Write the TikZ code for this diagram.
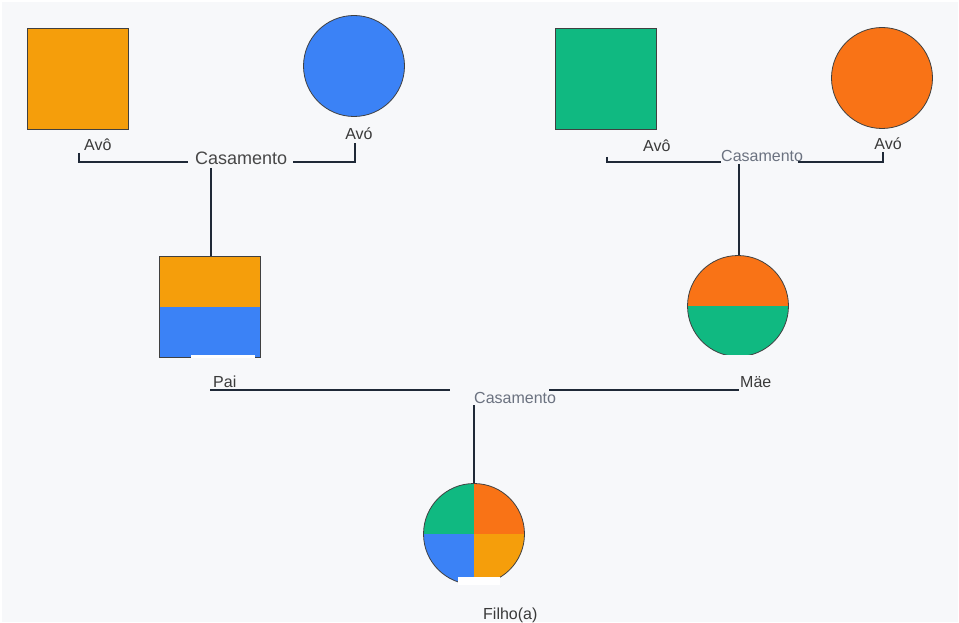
\documentclass[tikz,border=0pt]{standalone}
\usepackage{fontspec}
\setmainfont{Liberation Sans}
\usepackage{xcolor}
\usepackage{tikz}
\usetikzlibrary{positioning}
\definecolor{bgc}{HTML}{F7F8FA}
\definecolor{amberc}{HTML}{F59E0B}
\definecolor{bluec}{HTML}{3B82F6}
\definecolor{greenc}{HTML}{10B981}
\definecolor{orangec}{HTML}{F97316}
\definecolor{linec}{HTML}{1F2937}
\definecolor{textc}{HTML}{3A3A3A}
\definecolor{grayc}{HTML}{6B7280}
\tikzstyle{male} = [rectangle, draw=black!75, line width=0.8pt,
    minimum size=101pt, inner sep=0pt]
\tikzstyle{female} = [circle, draw=black!75, line width=0.8pt,
    minimum size=101pt, inner sep=0pt]
\tikzstyle{line} = [draw=linec, line width=2pt]
\tikzstyle{pname} = [anchor=base west, inner sep=0pt, text=textc,
    font=\fontsize{16pt}{19pt}\selectfont]
\tikzstyle{wedding} = [anchor=base west, inner sep=0pt, text=grayc,
    font=\fontsize{16pt}{19pt}\selectfont]

\begin{document}
\begin{tikzpicture}[x=1pt, y=-1pt]
    % Background
    \fill[white] (0,0) rectangle (959,623);
    \fill[bgc] (2,2) rectangle (958,622);
    \useasboundingbox (0,0) rectangle (959,623);

    % Place nodes
    \node [male, fill=amberc] (avo1) at (77.5,78.5) {};
    \node [female, fill=bluec] (avoa1) at (354,66) {};
    \node [male, fill=greenc] (avo2) at (605.5,78.5) {};
    \node [female, fill=orangec] (avoa2) at (882,78) {};
    \node [male, path picture={
        \fill[amberc] (path picture bounding box.north west) rectangle (path picture bounding box.east);
        \fill[bluec] (path picture bounding box.west) rectangle (path picture bounding box.south east);}]
        (pai) at (210,306.5) {};
    \node [female, path picture={
        \fill[orangec] (path picture bounding box.north west) rectangle (path picture bounding box.east);
        \fill[greenc] (path picture bounding box.west) rectangle (path picture bounding box.south east);}]
        (mae) at (738,306) {};
    \node [female, path picture={
        \fill[greenc] (path picture bounding box.north west) rectangle (path picture bounding box.center);
        \fill[orangec] (path picture bounding box.north east) rectangle (path picture bounding box.center);
        \fill[bluec] (path picture bounding box.south west) rectangle (path picture bounding box.center);
        \fill[amberc] (path picture bounding box.south east) rectangle (path picture bounding box.center);}]
        (filho) at (474,534) {};

    % Label patches
    \fill[white] (191,355) rectangle (255,358);
    \fill[bgc] (690,355) rectangle (786,358);
    \fill[white] (458,577) rectangle (500,585);

    % Labels
    \node [pname] (tavo1) at (84,151) {Avô};
    \node [pname, anchor=base] (tavoa1) at (359,140) {Avó};
    \node [pname] (tavo2) at (643,152) {Avô};
    \node [pname, anchor=base] (tavoa2) at (888,150) {Avó};
    \node [pname, text=black!72, font=\fontsize{18pt}{21pt}\selectfont] (cas1) at (195,165) {Casamento};
    \node [wedding] (cas2) at (721,161) {Casamento};
    \node [pname] (tpai) at (213,387) {Pai};
    \node [pname] (tmae) at (740,387) {Mäe};
    \node [wedding] (cas3) at (474,403) {Casamento};
    \node [pname] (tfilho) at (483,619) {Filho(a)};

    % Bracket points
    \coordinate (a1) at (79,153);
    \coordinate (a2) at (79,162);
    \coordinate (a3) at (188,162);
    \coordinate (a4) at (293,162);
    \coordinate (a5) at (355,162);
    \coordinate (a6) at (355,143);
    \coordinate (a7) at (211,168);
    \coordinate (b1) at (607,157);
    \coordinate (b2) at (607,162);
    \coordinate (b3) at (721,162);
    \coordinate (b4) at (798,162);
    \coordinate (b5) at (883,162);
    \coordinate (b6) at (883,152);
    \coordinate (b7) at (739,164);
    \coordinate (c1) at (210,390);
    \coordinate (c2) at (450,390);
    \coordinate (c3) at (549,390);
    \coordinate (c4) at (739,390);
    \coordinate (c5) at (474,405);

    % Draw edges
    \path [line] (a1) -- (a2) -- (a3);
    \path [line] (a4) -- (a5) -- (a6);
    \path [line] (a7) -- (a7 |- pai.north);
    \path [line] (b1) -- (b2) -- (b3);
    \path [line] (b4) -- (b5) -- (b6);
    \path [line] (b7) -- (b7 |- mae.north);
    \path [line] (c1) -- (c2);
    \path [line] (c3) -- (c4);
    \path [line] (c5) -- (filho.north);

\end{tikzpicture}
\end{document}
